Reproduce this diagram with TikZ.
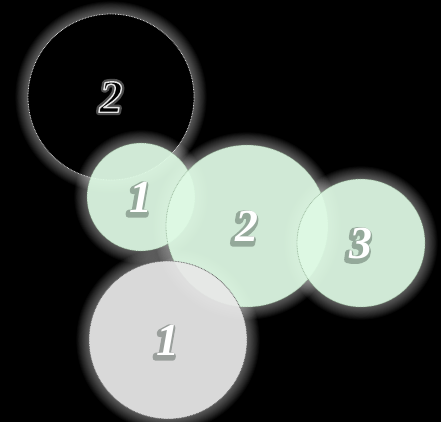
\documentclass[tikz,border=0pt]{standalone}
\usepackage{fontspec}
\setmainfont{Liberation Serif}
\newcommand\trmode[3]{\special{pdf:literal direct #1 Tr #2 w 1 j #3 RG}}
\begin{document}
\begin{tikzpicture}[x=1pt,y=-1pt,
  num/.style={font=\fontsize{46}{46}\selectfont\bfseries\itshape, inner sep=0pt},
  bubble/.style={circle, inner sep=0pt, minimum size=#1},
  ringline/.style={dash pattern=on 0.8pt off 0.8pt, line width=0.8pt},
  greenfill/.style={fill={rgb,255:red,222;green,250;blue,228}, fill opacity=0.9},
  grayfill/.style={fill={rgb,255:red,232;green,232;blue,232}, fill opacity=0.9},
]
\fill[black] (0,0) rectangle (441,422);
\useasboundingbox (0,0) rectangle (441,422);

% circle nodes (geometry)
\node[bubble=166pt] (b0) at (111,97) {};
\node[bubble=108pt] (g1) at (141,197) {};
\node[bubble=162pt] (g2) at (247,226) {};
\node[bubble=128pt] (g3) at (361,243) {};
\node[bubble=158pt] (w1) at (168,340) {};

% glow of the black circle and its fill
\foreach \k in {1,...,14} \fill[white, opacity=0.032] (b0.center) circle ({83+\k*0.9});
\fill[black] (b0.center) circle (83);
\draw[white!85!black, ringline] (b0.center) circle (83);

% glows of the other circles
\foreach \c/\r in {g1/54, g2/81, g3/64, w1/79}
  \foreach \k in {1,...,14} \fill[white, opacity=0.032] (\c.center) circle ({\r+\k*0.9});

% fills
\fill[greenfill] (g1.center) circle (54);
\draw[white!80!green!60!black, ringline, draw opacity=0.6] (g1.center) circle (54);
\fill[greenfill] (g2.center) circle (81);
\draw[white!80!green!60!black, ringline, draw opacity=0.6] (g2.center) circle (81);
\fill[greenfill] (g3.center) circle (64);
\draw[white!80!green!60!black, ringline, draw opacity=0.6] (g3.center) circle (64);
\fill[grayfill] (w1.center) circle (79);
\draw[black!60, ringline] (w1.center) circle (79);

% black "2" with white outline and glow
\node[num, text=white, opacity=0.3] at (b0.center) {\trmode{1}{6}{1 1 1}2};
\node[num, text=black] (t0) at (b0.center) {\trmode{2}{1.4}{0.9 0.9 0.9}2};

% white digits with dark shadows (down-left)
\foreach \c/\d in {g1/1, g2/2, g3/3, w1/1}{
  \node[num, text=black!80, opacity=0.35] at ([xshift=-2pt,yshift=-2.5pt]\c.center) {\trmode{1}{6}{0.15 0.2 0.17}\d};
  \node[num, text=white] at (\c.center) {\d};
}
\end{tikzpicture}
\end{document}
